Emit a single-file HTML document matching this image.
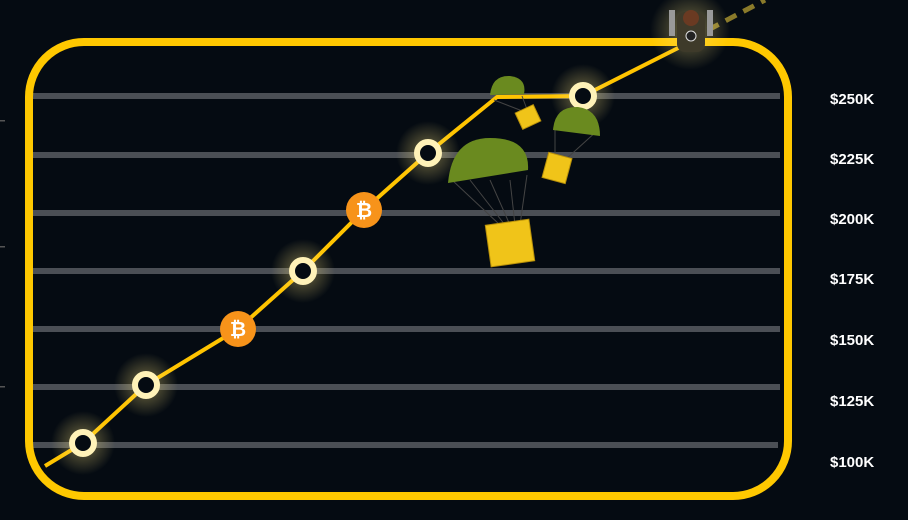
<!DOCTYPE html>
<html><head><style>
html,body{margin:0;padding:0;background:#050b12;width:908px;height:520px;overflow:hidden}
.l{position:absolute;left:830px;color:#fff;font:bold 15px "Liberation Sans",sans-serif}
</style></head><body>
<svg width="908" height="520" style="position:absolute;left:0;top:0">
<defs>
<radialGradient id="g"><stop offset="0" stop-color="#ffe680" stop-opacity=".45"/><stop offset="1" stop-color="#ffe680" stop-opacity="0"/></radialGradient>
</defs>
<g fill="#555">
<rect x="0" y="120" width="5" height="1.5"/><rect x="0" y="246" width="5" height="1.5"/><rect x="0" y="386" width="5" height="1.5"/>
</g>
<g stroke="#4b4f55" stroke-width="6">
<line x1="33" y1="96" x2="780" y2="96"/><line x1="33" y1="155" x2="780" y2="155"/>
<line x1="33" y1="213" x2="780" y2="213"/><line x1="33" y1="271" x2="780" y2="271"/>
<line x1="33" y1="329" x2="780" y2="329"/><line x1="33" y1="387" x2="780" y2="387"/>
<line x1="33" y1="445" x2="778" y2="445"/>
</g>
<rect x="29" y="42" width="759" height="454" rx="55" fill="none" stroke="#ffc800" stroke-width="8"/>
<polyline points="45,466 83,443 146,385 238,329 303,271 364,210 428,153 497,97 583,96 690,42" fill="none" stroke="#ffc400" stroke-width="4" stroke-linejoin="round"/>
<line x1="708" y1="30" x2="765" y2="0" stroke="#8a7a2a" stroke-width="5" stroke-dasharray="12 8"/>
<g fill="url(#g)">
<circle cx="83" cy="443" r="32"/><circle cx="146" cy="385" r="32"/><circle cx="303" cy="271" r="32"/><circle cx="428" cy="153" r="32"/><circle cx="583" cy="96" r="32"/><circle cx="690" cy="30" r="40"/>
</g>
<g fill="#050b12" stroke="#fff2b8" stroke-width="6">
<circle cx="83" cy="443" r="11"/><circle cx="146" cy="385" r="11"/><circle cx="303" cy="271" r="11"/><circle cx="428" cy="153" r="11"/><circle cx="583" cy="96" r="11"/>
</g>
<g font-family="Liberation Sans,sans-serif" font-weight="bold" font-size="20" fill="#fff" text-anchor="middle">
<circle cx="364" cy="210" r="18" fill="#f7931a"/><text x="364" y="217">₿</text>
<circle cx="238" cy="329" r="18" fill="#f7931a"/><text x="238" y="336">₿</text>
</g>
<g stroke="#444" stroke-width="1">
<line x1="452" y1="180" x2="500" y2="225"/><line x1="470" y1="180" x2="505" y2="225"/><line x1="490" y1="180" x2="510" y2="225"/><line x1="510" y1="180" x2="515" y2="225"/><line x1="527" y1="175" x2="520" y2="225"/>
<line x1="494" y1="100" x2="525" y2="112"/><line x1="522" y1="96" x2="528" y2="112"/>
<line x1="555" y1="130" x2="555" y2="160"/><line x1="598" y1="130" x2="565" y2="160"/>
</g>
<path d="M448,183 Q452,138 490,138 Q530,138 528,170 Z" fill="#6a8a1f"/>
<path d="M490,95 Q492,75 510,76 Q527,78 524,94 Z" fill="#6a8a1f"/>
<path d="M553,130 Q555,106 578,107 Q600,110 600,136 Z" fill="#6a8a1f"/>
<g fill="#f0c419" stroke="#b8900a" stroke-width="1">
<rect x="488" y="222" width="44" height="42" transform="rotate(-8 510 243)"/>
<rect x="518" y="108" width="20" height="18" transform="rotate(-25 528 117)"/>
<rect x="545" y="155" width="24" height="26" transform="rotate(15 557 168)"/>
</g>
<g>
<rect x="677" y="12" width="28" height="40" rx="8" fill="#3e3a2a"/>
<circle cx="691" cy="18" r="8" fill="#6a3a22"/>
<rect x="669" y="10" width="6" height="26" fill="#999"/><rect x="707" y="10" width="6" height="26" fill="#999"/>
<circle cx="691" cy="36" r="5" fill="#222" stroke="#ddd"/>
</g>
</svg>
<div class="l" style="top:91px">$250K</div>
<div class="l" style="top:151px">$225K</div>
<div class="l" style="top:211px">$200K</div>
<div class="l" style="top:271px">$175K</div>
<div class="l" style="top:332px">$150K</div>
<div class="l" style="top:393px">$125K</div>
<div class="l" style="top:454px">$100K</div>
</body></html>
